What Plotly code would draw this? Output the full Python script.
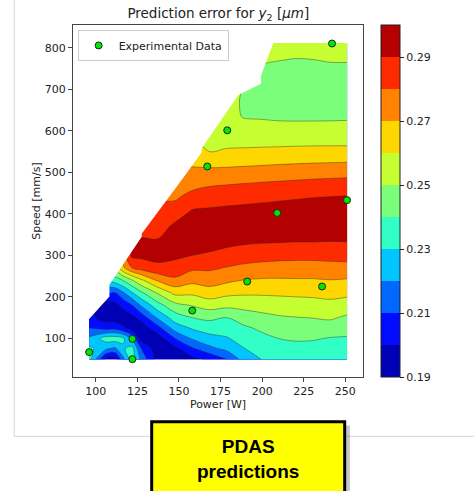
import plotly.graph_objects as go

# Process window grid (laser power x scan speed)
power_grid = [96.0, 106.33, 111.5, 116.67, 121.8, 127.0, 137.33, 147.67, 158.0, 168.33,
              178.67, 189.0, 199.33, 209.67, 220.0, 230.33, 240.67, 251.0]
speed_grid = [50, 75, 100, 125, 150, 180, 210, 240, 270, 300, 335, 370, 405,
              440, 475, 510, 550, 590, 635, 680, 725, 770, 811]

N = None  # no prediction (beyond the feasible speed limit)
# Predicted error for y2, one row per speed value
error_grid = [
    [.234, .197, .196, .218, .235, .218, .195, .193, .197, .2014, .21, .224, .23, .2305, .231, .232, .234, .236],
    [.233, .221, .218, .229, .234, .211, .193, .197, .2083, .2172, .2224, .2296, .2337, .2353, .2364, .2364, .2367, .2376],
    [.222, .235, .235, .231, .218, .196, .194, .21, .2212, .2267, .2292, .234, .2374, .24, .2413, .2409, .2395, .2393],
    [.21, .206, .207, .201, .195, .194, .2065, .2245, .2311, .2343, .2347, .2383, .2416, .2445, .2455, .2456, .2453, .243],
    [.203, .195, .194, .195, .197, .203, .2216, .235, .24, .2422, .24, .2445, .2471, .2489, .2497, .2502, .2513, .2485],
    [N, .194, .197, .2025, .21, .2206, .2364, .2471, .2507, .2544, .2527, .2533, .2541, .2551, .2557, .2562, .2571, .2555],
    [N, N, .21, .2193, .2294, .238, .2513, .2629, .262, .2656, .2627, .2616, .2615, .2617, .2621, .2624, .2633, .2624],
    [N, N, .235, .2408, .2493, .2577, .2714, .2778, .273, .2744, .272, .2697, .269, .2688, .2691, .2691, .2698, .2691],
    [N, N, N, .269, .28, .2843, .2878, .2866, .2819, .2817, .2795, .2776, .2765, .276, .2759, .2759, .2766, .2767],
    [N, N, N, N, .2925, .2921, .2929, .2918, .29, .289, .287, .2851, .2839, .2832, .2828, .2829, .2831, .2835],
    [N] * 5 + [.2915, .2907, .2955, .2933, .2932, .2926, .2918, .2913, .291, .2906, .2907, .2903, .2905],
    [N] * 6 + [.2855, .292, .2944, .2952, .2965, .2959, .2959, .2961, .296, .2958, .2954, .2953],
    [N] * 6 + [.2835, .2848, .2911, .2916, .2923, .2928, .2934, .294, .2947, .295, .2955, .2958],
    [N] * 7 + [.2785, .2836, .2857, .2865, .2872, .2878, .2885, .2891, .2898, .2903, .2907],
    [N] * 8 + [.2758, .278, .2788, .2795, .2802, .2809, .2815, .2822, .2827, .2832],
    [N] * 8 + [.2705, .2702, .2705, .271, .2715, .2721, .2726, .2731, .2734, .2738],
    [N] * 9 + [.26, .261, .2616, .2621, .2624, .2627, .2629, .263, .2631],
    [N] * 9 + [.2555, .2557, .2544, .254, .254, .2542, .2543, .2542, .2542],
    [N] * 10 + [.2527, .2495, .2492, .2487, .2485, .2485, .2486, .2488],
    [N] * 11 + [.2492, .2476, .2463, .2456, .2456, .2461, .2465],
    [N] * 12 + [.249, .2477, .2471, .2471, .2476, .2479],
    [N] * 12 + [.2504, .2501, .2498, .2499, .2503, .2503],
    [N] * 13 + [.2515, .252, .2525, .2525, .252],
]

# Upper speed limit of the process window (left edge of the prediction map)
window_power = [96, 108.2, 108.2, 127.6, 127.6, 151.7, 163.7, 163.7, 185.7, 199.3, 199.3, 206.7]
window_speed = [147, 201, 229, 345, 352, 482, 548, 558, 686, 713, 733, 811]

# Experimental measurements
exp_power = [96, 122, 122, 158, 191, 236, 209, 251, 242, 179, 167]
exp_speed = [67, 99, 50, 167, 237, 225, 402, 433, 810, 601, 514]

# Contour levels and colorbar ticks
level_start, level_end, level_step = 0.19, 0.30, 0.01
cbar_ticks = [0.19, 0.21, 0.23, 0.25, 0.27, 0.29]

# Discrete jet colours, one per band (0.19-0.20 ... 0.29-0.30)
band_colors = ["#0000B4", "#000BFF", "#0068FF", "#00C5FF", "#31FFC6", "#7BFF7B",
               "#C6FF31", "#FFD700", "#FF8200", "#FF2B00", "#B40000"]

x_range = [86.3, 260.6]
y_range = [7.1, 854.6]

# Contour fill scale: Plotly samples band k at (k + 1) / 12 for 12 levels
fill_cols = [band_colors[0]] + band_colors + [band_colors[-1]]
n_fill = len(fill_cols) - 1
fill_scale = []
for j, c in enumerate(fill_cols):
    lo = max(0.0, (j - 0.5) / n_fill)
    hi = min(1.0, (j + 0.5) / n_fill)
    fill_scale += [[lo, c], [hi, c]]

# Stepped scale for the stand-alone colorbar
nb = len(band_colors)
bar_scale = []
for k, c in enumerate(band_colors):
    bar_scale += [[k / nb, c], [(k + 1) / nb, c]]

font_main = "DejaVu Sans, Verdana, sans-serif"

fig = go.Figure()

fig.add_trace(go.Contour(
    x=power_grid, y=speed_grid, z=error_grid,
    autocontour=False,
    contours=dict(start=level_start, end=level_end, size=level_step,
                  coloring="fill", showlines=True),
    colorscale=fill_scale,
    line=dict(color="rgba(40,40,40,0.6)", width=0.7, smoothing=1),
    connectgaps=True,
    showscale=False,
    hoverinfo="skip",
    showlegend=False,
))

# blank out everything above the feasible speed limit
mask_x = [x_range[0]] + window_power + [window_power[-1], x_range[0]]
mask_y = [window_speed[0]] + window_speed + [y_range[1] + 50, y_range[1] + 50]
fig.add_trace(go.Scatter(
    x=mask_x, y=mask_y, mode="lines", fill="toself", fillcolor="white",
    line=dict(width=0, color="white"), hoverinfo="skip", showlegend=False,
))

fig.add_trace(go.Scatter(
    x=exp_power, y=exp_speed, mode="markers", name="Experimental Data",
    marker=dict(color="#00e600", size=7, line=dict(color="#1a2a1a", width=1)),
))

# colorbar
fig.add_trace(go.Scatter(
    x=[None], y=[None], mode="markers", showlegend=False, hoverinfo="skip",
    marker=dict(color=[level_start], cmin=level_start, cmax=level_end,
                colorscale=bar_scale, showscale=True,
                colorbar=dict(
                    x=1.062, xanchor="left", xpad=0, ypad=0,
                    y=0.5, yanchor="middle", len=1, lenmode="fraction",
                    thickness=19, outlinewidth=1, outlinecolor="#222",
                    tickvals=cbar_ticks, tickformat=".2f",
                    ticks="outside", ticklen=4, tickcolor="#222",
                    tickfont=dict(family=font_main, size=11, color="#222"),
                )),
))

axis_common = dict(
    showline=True, mirror=True, linecolor="#444", linewidth=1,
    ticks="outside", ticklen=4, tickcolor="#444",
    showgrid=False, zeroline=False,
    tickfont=dict(family=font_main, size=11, color="#222"),
)

fig.update_layout(
    width=474, height=491,
    margin=dict(l=73, r=111, t=25, b=114),
    paper_bgcolor="white", plot_bgcolor="white",
    title=dict(text="Prediction error for <i>y</i><sub>2</sub> [<i>μm</i>]",
               x=(218.3 / 474), xanchor="center", y=1 - 13.5 / 491, yanchor="middle",
               font=dict(family=font_main, size=13.5, color="#222")),
    xaxis=dict(range=x_range, tickvals=[100, 125, 150, 175, 200, 225, 250],
               title=dict(text="Power [W]", standoff=3,
                          font=dict(family=font_main, size=11, color="#222")),
               **axis_common),
    yaxis=dict(range=y_range, tickvals=[100, 200, 300, 400, 500, 600, 700, 800],
               title=dict(text="Speed [mm/s]", standoff=1,
                          font=dict(family=font_main, size=11, color="#222")),
               **axis_common),
    showlegend=True,
    legend=dict(x=0.016, y=0.986, xanchor="left", yanchor="top",
                bgcolor="rgba(255,255,255,0.9)", bordercolor="#cccccc", borderwidth=1,
                font=dict(family=font_main, size=11, color="#222")),
)

# faint figure frame, label box with drop shadow
fig.add_shape(type="line", xref="paper", yref="paper",
              x0=-0.2028, x1=-0.2028, y0=-0.1685, y1=1.08,
              line=dict(color="#d4d4d4", width=1))
fig.add_shape(type="line", xref="paper", yref="paper",
              x0=-0.2028, x1=1.4, y0=-0.1685, y1=-0.1685,
              line=dict(color="#d4d4d4", width=1))
fig.add_shape(type="rect", xref="paper", yref="paper",
              x0=0.285, x1=0.955, y0=-0.36, y1=-0.138,
              fillcolor="rgba(0,0,0,0.22)", line=dict(width=0))
fig.add_shape(type="rect", xref="paper", yref="paper",
              x0=0.2714, x1=0.9369, y0=-0.36, y1=-0.1269,
              fillcolor="#ffff00", line=dict(color="black", width=3))
fig.add_annotation(xref="paper", yref="paper", x=0.6034, y=-0.232,
                   xanchor="center", yanchor="middle", showarrow=False,
                   text="<b>PDAS</b><br><b>predictions</b>",
                   font=dict(family="Liberation Sans, Arial, sans-serif", size=19, color="black"))

fig.write_html("out.html")
